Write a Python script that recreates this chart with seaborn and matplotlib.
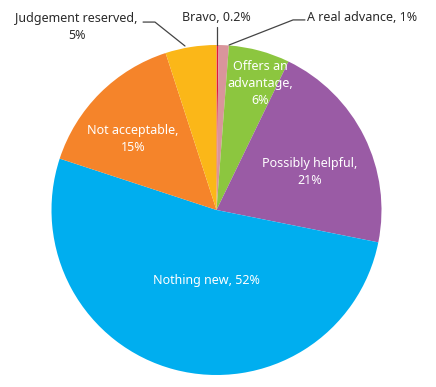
import matplotlib
matplotlib.use("Agg")
import matplotlib.pyplot as plt
import seaborn as sns

categories = ["Bravo", "A real advance", "Offers an advantage", "Possibly helpful",
              "Nothing new", "Not acceptable", "Judgement reserved"]
values = [0.2, 1, 6, 21, 52, 15, 5]
colors = ["#e2163f", "#d9959b", "#8cc63f", "#9a5ba5", "#00aeef", "#f5842a", "#fbb718"]

inside_labels = {
    "Offers an advantage": ("Offers an\nadvantage,\n6%", 0.263, 0.764),
    "Possibly helpful": ("Possibly helpful,\n21%", 0.567, 0.230),
    "Nothing new": ("Nothing new, 52%", -0.058, -0.430),
    "Not acceptable": ("Not acceptable,\n15%", -0.506, 0.430),
}
outside_labels = {
    "Judgement reserved": ("Judgement reserved,\n5%", -0.848, 1.112,
                           [(-0.445, 1.139), (-0.373, 1.139), (-0.191, 0.994)]),
    "Bravo": ("Bravo, 0.2%", 0.0, 1.164, [(0.0, 1.109), (0.0, 1.0)]),
    "A real advance": ("A real advance, 1%", 0.885, 1.164,
                       [(0.536, 1.152), (0.464, 1.152), (0.076, 1.0)]),
}

sns.set_theme(style="white")
plt.rcParams["font.family"] = ["Noto Sans", "DejaVu Sans"]

fig = plt.figure(figsize=(4.36, 3.87), dpi=100)
W, H = 436, 387
cx, cy, r = 216.5, 210, 165
ax = fig.add_axes([(cx - r) / W, (H - cy - r) / H, 2 * r / W, 2 * r / H])
ax.pie(values, colors=sns.color_palette(colors), startangle=90, counterclock=False,
       wedgeprops=dict(linewidth=0), radius=1)
ax.set_xlim(-1, 1)
ax.set_ylim(-1, 1)
ax.set_aspect("auto")
ax.axis("off")

fs = 9
for cat, (txt, x, y) in inside_labels.items():
    ax.text(x, y, txt, color="white", ha="center", va="center", fontsize=fs,
            linespacing=1.4)
for cat, (txt, x, y, pts) in outside_labels.items():
    ax.text(x, y, txt, color="#2a2a2a", ha="center", va="center", fontsize=fs,
            linespacing=1.4, clip_on=False)
    xs = [p[0] for p in pts]
    ys = [p[1] for p in pts]
    ax.plot(xs, ys, color="#444444", lw=0.9, clip_on=False)

fig.savefig("out.png", dpi=100)
